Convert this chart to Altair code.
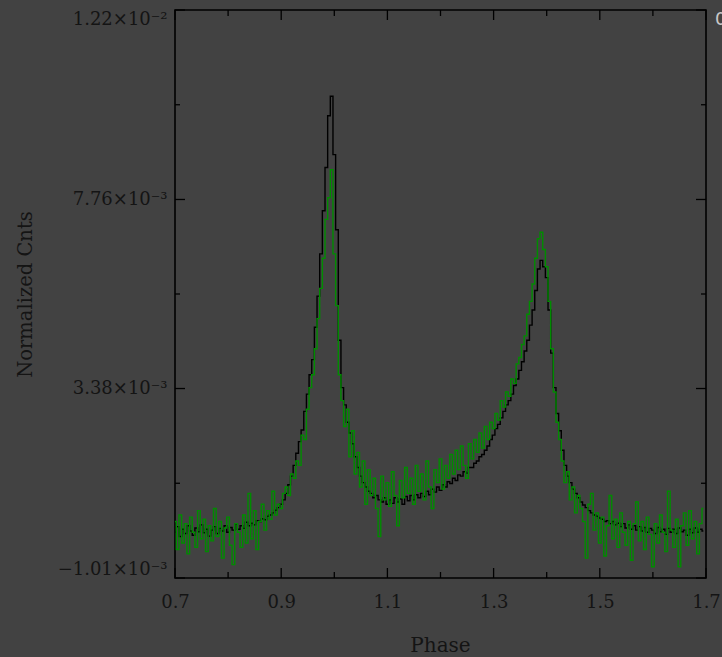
import altair as alt
import numpy as np
import pandas as pd

# phase bins (0.700 ... 1.695, step 0.005)
phase = np.round(np.arange(200) * 0.005 + 0.7, 3)

# normalized counts in units of 1e-3 (black series)
black = [
    0.05, 0.18, -0.05, 0.12, 0.02, 0.20, 0.08, -0.02, 0.15, 0.06,
    0.22, 0.04, 0.12, -0.04, 0.10, 0.18, 0.02, 0.14, 0.08, 0.20,
    0.05, 0.16, 0.10, 0.24, 0.12, 0.20, 0.14, 0.28, 0.20, 0.26,
    0.22, 0.32, 0.30, 0.36, 0.34, 0.42, 0.45, 0.50, 0.56, 0.62,
    0.70, 0.80, 0.95, 1.15, 1.35, 1.60, 1.88, 2.15, 2.42, 2.85,
    3.25, 3.70, 4.05, 4.80, 5.52, 6.50, 7.50, 8.50, 9.70, 10.15,
    8.80, 7.06, 4.50, 3.40, 3.00, 2.60, 2.35, 2.10, 1.80, 1.55,
    1.35, 1.20, 1.10, 1.00, 0.95, 0.85, 0.90, 0.80, 0.75, 0.85,
    0.70, 0.80, 0.72, 0.85, 0.75, 0.82, 0.70, 0.88, 0.78, 0.90,
    0.80, 0.92, 0.85, 0.95, 0.88, 1.00, 0.92, 1.05, 0.98, 1.10,
    1.02, 1.15, 1.10, 1.22, 1.18, 1.30, 1.25, 1.38, 1.35, 1.45,
    1.42, 1.55, 1.55, 1.65, 1.70, 1.80, 1.85, 1.95, 2.05, 2.20,
    2.30, 2.45, 2.55, 2.70, 2.85, 3.00, 3.10, 3.25, 3.45, 3.60,
    3.80, 4.00, 4.25, 4.50, 4.85, 5.20, 5.65, 6.15, 6.35, 6.20,
    5.95, 5.20, 4.20, 3.40, 2.80, 2.40, 1.95, 1.60, 1.35, 1.20,
    1.05, 0.95, 0.85, 0.75, 0.68, 0.62, 0.55, 0.50, 0.45, 0.42,
    0.38, 0.35, 0.30, 0.32, 0.25, 0.30, 0.22, 0.26, 0.18, 0.25,
    0.15, 0.22, 0.12, 0.20, 0.10, 0.18, 0.08, 0.16, 0.05, 0.14,
    0.10, 0.02, 0.16, 0.06, 0.12, 0.00, 0.14, 0.05, 0.12, 0.02,
    0.15, 0.06, 0.10, -0.02, 0.12, 0.04, 0.15, 0.05, 0.12, 0.08,
]

# normalized counts in units of 1e-3 (green series)
green = [
    0.30, -0.35, 0.45, -0.20, 0.25, -0.45, 0.40, 0.05, -0.30, 0.55,
    -0.10, 0.35, -0.40, 0.20, -0.15, 0.60, -0.05, 0.30, -0.55, 0.15,
    0.40, -0.25, -0.70, 0.25, 0.05, -0.30, 0.45, -0.20, 0.95, -0.10,
    0.55, -0.35, 0.30, 0.70, 0.10, 0.55, 0.35, 1.00, 0.45, 0.70,
    0.60, 0.95, 1.10, 0.90, 1.40, 1.30, 1.70, 1.60, 2.30, 2.20,
    2.90, 3.40, 3.70, 4.30, 5.00, 5.70, 6.40, 7.30, 7.80, 8.45,
    6.50, 5.30, 3.70, 3.10, 2.50, 2.90, 1.80, 2.40, 1.40, 1.90,
    1.10, 1.70, 0.70, 1.50, 0.90, 1.30, 0.60, -0.05, 1.35, 0.80,
    1.20, 0.65, 1.45, 0.90, 0.20, 1.25, 0.85, 1.55, 0.95, 1.30,
    0.70, 1.60, 1.00, 1.40, 0.80, 1.70, 1.10, 0.60, 1.50, 1.20,
    1.75, 1.05, 1.60, 1.30, 1.85, 1.40, 1.95, 1.50, 2.05, 1.60,
    1.30, 2.10, 1.75, 2.20, 1.90, 2.35, 2.00, 2.50, 2.20, 2.60,
    2.45, 2.80, 2.65, 3.10, 2.95, 3.30, 3.20, 3.60, 3.50, 3.95,
    4.10, 4.40, 4.60, 5.10, 5.40, 5.80, 6.40, 6.85, 7.00, 6.60,
    6.20, 5.40, 4.30, 3.30, 2.60, 2.20, 1.70, 1.20, 1.45, 0.80,
    1.10, 0.50, 0.90, 0.60, 0.30, -0.55, 0.70, 0.95, 0.10, 0.50,
    -0.20, 0.40, -0.50, 0.20, 0.90, -0.10, 0.35, -0.30, 0.50, 0.05,
    -0.25, 0.30, -0.60, 0.25, 0.75, -0.15, 0.30, -0.35, 0.40, 0.00,
    -0.75, 0.25, -0.20, 0.45, 0.05, -0.40, 1.00, 0.10, -0.30, 0.35,
    -0.75, 0.20, 0.50, -0.25, 0.55, -0.10, 0.30, -0.45, 0.25, 0.60,
]

x_major = [0.7, 0.9, 1.1, 1.3, 1.5, 1.7]
x_minor = [0.8, 1.0, 1.2, 1.4, 1.6]
y_major = [-1.01, 3.38, 7.76, 12.15]
y_minor = [1.185, 5.57, 9.955]
y_labels = ["\u22121.01\u00d710\u207b\u00b3", "3.38\u00d710\u207b\u00b3",
            "7.76\u00d710\u207b\u00b3", "1.22\u00d710\u207b\u00b2"]

W, H = 531, 568
BG = "#424242"
FONT = "DejaVu Serif"
TXT = "#141414"

df = pd.DataFrame({
    "phase": np.concatenate([phase, phase]),
    "cnts": black + green,
    "series": ["black"] * len(black) + ["green"] * len(green),
})

xscale = alt.Scale(domain=[0.7, 1.7], nice=False, zero=False)
yscale = alt.Scale(domain=[-1.01, 12.15], nice=False, zero=False)

label_expr = ""
for i, (v, lab) in enumerate(zip(y_major, y_labels)):
    if i < len(y_major) - 1:
        thr = (v + y_major[i + 1]) / 2
        label_expr += f"datum.value < {thr} ? '{lab}' : "
    else:
        label_expr += f"'{lab}'"

x_axis = alt.Axis(values=x_major, title="Phase", ticks=False, domain=False, grid=False,
                  labelFont=FONT, labelFontSize=18, labelColor=TXT, labelPadding=15,
                  labelFlush=False, labelExpr="format(datum.value, '.1f')",
                  titleFont=FONT, titleFontSize=20, titleColor=TXT, titleFontWeight="normal",
                  titleX=265, titleY=67, titleBaseline="middle")
y_axis = alt.Axis(values=y_major, title="Normalized Cnts", ticks=False, domain=False, grid=False,
                  labelFont=FONT, labelFontSize=18, labelColor=TXT, labelPadding=8,
                  labelFlush=True, labelExpr=label_expr,
                  titleFont=FONT, titleFontSize=19.5, titleColor=TXT, titleFontWeight="normal",
                  titleX=-150, titleY=284, titleAngle=-90, titleBaseline="middle",
                  titleAlign="center")

lines = alt.Chart(df).mark_line(interpolate="step", strokeWidth=1.4, clip=True).encode(
    x=alt.X("phase:Q", scale=xscale, axis=x_axis),
    y=alt.Y("cnts:Q", scale=yscale, axis=y_axis),
    color=alt.Color("series:N", scale=alt.Scale(domain=["black", "green"], range=["#000000", "#008c00"]),
                    legend=None),
)

def xticks(vals, y0, y1):
    return alt.Chart(pd.DataFrame({"t": vals})).mark_rule(color="#000000", strokeWidth=1.3).encode(
        x=alt.X("t:Q", scale=xscale, axis=x_axis), y=alt.value(y0), y2=alt.value(y1))

def yticks(vals, x0, x1):
    return alt.Chart(pd.DataFrame({"t": vals})).mark_rule(color="#000000", strokeWidth=1.3).encode(
        y=alt.Y("t:Q", scale=yscale, axis=y_axis), x=alt.value(x0), x2=alt.value(x1))

corner = alt.Chart(pd.DataFrame({"s": ["0"]})).mark_text(
    align="left", baseline="top", font="DejaVu Sans", fontSize=18, color="#c8c8c8"
).encode(text="s:N", x=alt.value(540), y=alt.value(1))

chart = alt.layer(
    lines,
    xticks(x_major, H, H - 10), xticks(x_minor, H, H - 6),
    xticks(x_major, 0, 10), xticks(x_minor, 0, 6),
    yticks(y_major, 0, 10), yticks(y_minor, 0, 5),
    yticks(y_major, W, W - 10), yticks(y_minor, W, W - 5),
    corner,
).properties(
    width=W, height=H, background=BG,
    autosize=alt.AutoSizeParams(type="none"),
    padding={"left": 175, "top": 10, "right": 16, "bottom": 79},
).configure_view(stroke="#000000", strokeWidth=1.6, fill=BG)

chart.save("out.html", embed_options={"renderer": "svg", "actions": False})
